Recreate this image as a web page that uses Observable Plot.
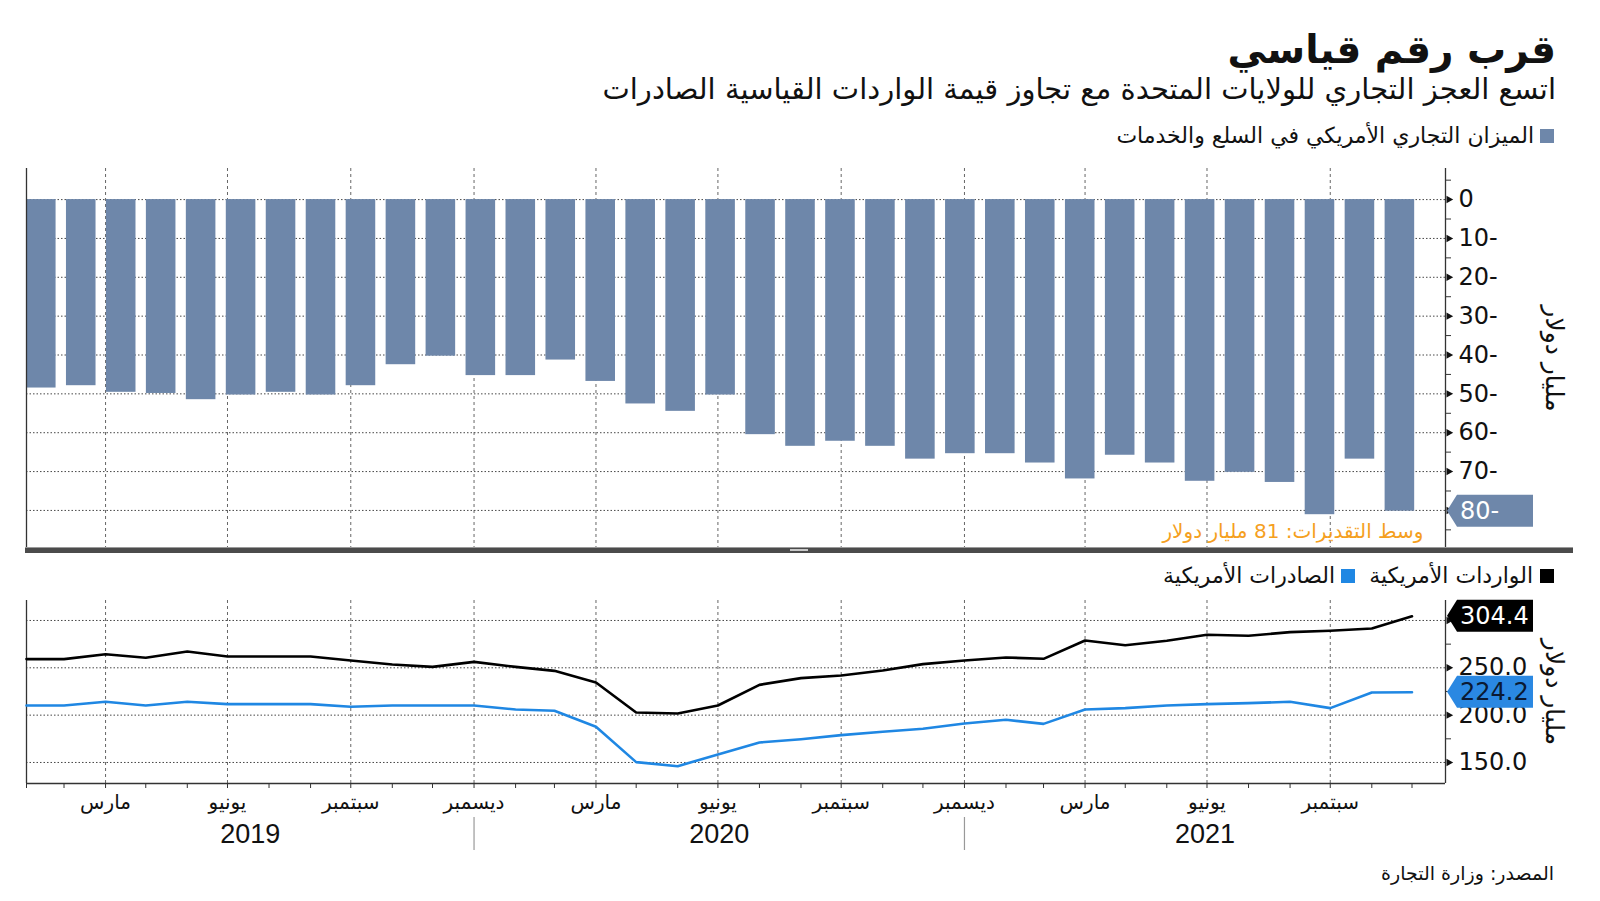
<!DOCTYPE html>
<html><head><meta charset="utf-8">
<script src="https://cdn.jsdelivr.net/npm/d3@7"></script>
<script src="https://cdn.jsdelivr.net/npm/@observablehq/plot@0.6"></script>
<style>
html,body{margin:0;padding:0;background:#fff;}
body{width:1600px;height:901px;overflow:hidden;position:relative;font-family:"DejaVu Sans",sans-serif;color:#111;}
.abs{position:absolute;white-space:nowrap;}
.rtl{direction:rtl;}
.legend{display:flex;align-items:center;direction:rtl;z-index:5;}
.sq{display:inline-block;width:14px;height:14px;}
</style></head><body>
<div id="title" class="abs rtl" style="right:44px;top:28px;font-weight:bold;font-size:39px;line-height:44px;">قرب رقم قياسي</div>
<div id="subtitle" class="abs rtl" style="right:44px;top:70px;font-size:29px;line-height:38px;">اتسع العجز التجاري للولايات المتحدة مع تجاوز قيمة الواردات القياسية الصادرات</div>
<div id="legend1" class="abs legend" style="right:46px;top:123px;font-size:22px;line-height:26px;">
  <span class="sq" style="background:#6e87aa;margin-left:6px;"></span><span>الميزان التجاري الأمريكي في السلع والخدمات</span>
</div>
<div id="chartTop" class="abs" style="left:0;top:150px;"></div>
<div id="sep" class="abs" style="left:25px;top:547px;width:1548px;height:6px;background:#4b4b4b;border-top:1px solid #9a9a9a;box-sizing:border-box;z-index:4;"></div>
<div class="abs" style="left:790px;top:549px;width:18px;height:2px;background:#c8c8c8;z-index:6;"></div>
<div id="chartBottom" class="abs" style="left:0;top:560px;"></div>
<div id="legend2" class="abs legend" style="right:46px;top:563px;font-size:22px;line-height:26px;">
  <span class="sq" style="background:#000;margin-left:7px;"></span><span>الواردات الأمريكية</span>
  <span class="sq" style="background:#1f87e3;margin-left:6px;margin-right:14px;"></span><span>الصادرات الأمريكية</span>
</div>
<div id="source" class="abs rtl" style="right:46px;top:860px;font-size:19px;line-height:26px;">المصدر: وزارة التجارة</div>
<script>
// ---------------- data ----------------
const months = ["2019-01","2019-02","2019-03","2019-04","2019-05","2019-06","2019-07","2019-08","2019-09","2019-10","2019-11","2019-12",
  "2020-01","2020-02","2020-03","2020-04","2020-05","2020-06","2020-07","2020-08","2020-09","2020-10","2020-11","2020-12",
  "2021-01","2021-02","2021-03","2021-04","2021-05","2021-06","2021-07","2021-08","2021-09","2021-10","2021-11"];
const tradeBalance = [-48.5,-47.9,-49.6,-49.9,-51.5,-50.3,-49.6,-50.3,-47.9,-42.5,-40.3,-45.3,
  -45.3,-41.3,-46.8,-52.6,-54.5,-50.3,-60.5,-63.5,-62.2,-63.5,-66.8,-65.4,
  -65.4,-67.8,-71.9,-65.8,-67.8,-72.5,-70.2,-72.8,-81.1,-66.8,-80.2];
const usImports = [259.2,259.2,264.4,260.6,267.3,262.0,262.0,262.0,257.7,253.5,251.0,256.3,
  251.0,246.8,234.5,202.8,201.8,210.2,232.0,239.1,241.9,247.2,253.9,257.7,
  260.9,259.5,278.9,273.9,278.5,284.9,283.8,287.7,289.1,291.5,304.4];
const usExports = [210.2,210.2,214.1,210.2,214.1,211.6,211.6,211.6,208.8,210.2,210.2,210.2,
  206.0,204.6,187.7,150.4,146.1,158.5,171.1,174.6,178.9,182.4,185.6,191.2,
  195.1,190.8,206.0,207.4,210.2,211.6,212.7,214.1,207.4,224.0,224.2];
const consensus = 81;
const monthNames = ["يناير","فبراير","مارس","أبريل","مايو","يونيو","يوليو","أغسطس","سبتمبر","أكتوبر","نوفمبر","ديسمبر"];
const labelledMonths = [2,5,8,11];
const balanceTicks = [0,-10,-20,-30,-40,-50,-60,-70,-80];
const balanceMinorTicks = [5,-5,-15,-25,-35,-45,-55,-65,-75,-85];
const tradeTicks = [150,200,250,300];
const tradeMinorTicks = [175,225,275];
const years = [2019,2020,2021];

// ---------------- helpers ----------------
const monthEnd = s => { const [y,m] = s.split("-").map(Number); return new Date(Date.UTC(y, m, 0)); };
const dates = months.map(monthEnd);
const xDomain = [dates[0], new Date(Date.UTC(2021, 11, 25))];
const quarterDates = dates.filter(d => labelledMonths.includes(d.getUTCMonth()));
const yearBounds = dates.filter(d => d.getUTCMonth() === 11);
const yearSpans = years.map(y => {
  const a = Math.max(+xDomain[0], Date.UTC(y - 1, 11, 31));
  const b = Math.min(+xDomain[1], Date.UTC(y, 11, 31));
  return {year: String(y), mid: new Date((a + b) / 2)};
});
const fmtNeg = d => d < 0 ? `${-d}-` : `${d}`;
const fmt1 = d => d.toFixed(1);
const last = a => a[a.length - 1];
// tick labels hidden under a last-value tag (as in the original)
const visibleTicks = (ticks, lastValues, gap) => ticks.filter(t => lastValues.every(v => Math.abs(t - v) >= gap));

// evenly spaced bars spanning the monthly range
const nBars = tradeBalance.length, padInner = 0.26;
const barStart = +dates[0], barEnd = Date.UTC(2021, 11, 2);
const step = (barEnd - barStart) / (nBars - padInner);
const bars = tradeBalance.map((v, i) => ({
  x1: new Date(barStart + i * step),
  x2: new Date(barStart + i * step + (1 - padInner) * step),
  v
}));

const importsData = dates.map((d, i) => ({date: d, value: usImports[i]}));
const exportsData = dates.map((d, i) => ({date: d, value: usExports[i]}));

const triRight = {draw(ctx, size) { const a = Math.sqrt(size) * 0.7; ctx.moveTo(0, -a); ctx.lineTo(a * 1.8, 0); ctx.lineTo(0, a); ctx.closePath(); }};

const FONT = "DejaVu Sans";
const gridH = {stroke: "#333", strokeDasharray: "1.5,2", strokeWidth: 1, strokeOpacity: 0.9};
const gridV = {stroke: "#555", strokeDasharray: "3,3", strokeWidth: 1, strokeOpacity: 0.9};
const W = 1600, ML = 26, MR = 155;
const unitTitle = "مليار دولار";

// ---------------- top panel ----------------
const topPlot = Plot.plot({
  width: W, height: 400, marginLeft: ML, marginRight: MR, marginTop: 18, marginBottom: 2,
  x: {type: "utc", domain: xDomain, axis: null},
  y: {domain: [-89.8, 8], axis: null},
  style: {fontFamily: FONT, background: "transparent", overflow: "visible", color: "#111"},
  marks: [
    Plot.ruleY(balanceTicks, gridH),
    Plot.ruleX(quarterDates, gridV),
    Plot.rect(bars, {x1: "x1", x2: "x2", y1: () => 0, y2: "v", fill: "#6e87aa"}),
    Plot.ruleX(xDomain, {stroke: "#333", strokeWidth: 1.3}),
    Plot.axisY(balanceMinorTicks, {anchor: "right", tickSize: 5, tickFormat: () => "", stroke: "#333", label: null}),
    Plot.dot(balanceTicks, {y: d => d, frameAnchor: "right", symbol: triRight, r: 3, fill: "#111", stroke: null, dx: 1}),
    Plot.axisY(visibleTicks(balanceTicks, [last(tradeBalance)], 5), {anchor: "right", tickSize: 0, tickPadding: 13, tickFormat: fmtNeg, fontSize: 24, fill: "#111", label: null}),
    Plot.text([unitTitle], {frameAnchor: "right", dx: 108, rotate: 90, textAnchor: "middle", lineAnchor: "middle", fontSize: 25, fill: "#111"}),
    Plot.text([`وسط التقديرات: ${consensus} مليار دولار`], {frameAnchor: "bottom-right", dx: -22, dy: -11, textAnchor: "end", fill: "#f5a01e", fontSize: 20})
  ]
});
document.getElementById("chartTop").append(topPlot);

// ---------------- bottom panel ----------------
const bottomPlot = Plot.plot({
  width: W, height: 290, marginLeft: ML, marginRight: MR, marginTop: 40, marginBottom: 67,
  x: {type: "utc", domain: xDomain},
  y: {domain: [127.8, 321.1]},
  style: {fontFamily: FONT, background: "transparent", overflow: "visible", color: "#111"},
  marks: [
    Plot.ruleY(tradeTicks, gridH),
    Plot.ruleX(quarterDates, gridV),
    Plot.ruleX(xDomain, {stroke: "#333", strokeWidth: 1.3}),
    Plot.ruleY([127.8], {stroke: "#333", strokeWidth: 1.3}),
    Plot.line(importsData, {x: "date", y: "value", stroke: "#000", strokeWidth: 2.6}),
    Plot.line(exportsData, {x: "date", y: "value", stroke: "#1f87e3", strokeWidth: 2.6}),
    Plot.axisX(dates, {tickSize: 5, tickFormat: () => "", stroke: "#333", label: null}),
    Plot.axisX(quarterDates, {tickSize: 0, tickPadding: 11, tickFormat: d => monthNames[d.getUTCMonth()], fontSize: 20, fill: "#111", label: null}),
    Plot.text(yearSpans, {x: "mid", text: "year", frameAnchor: "bottom", dy: 59, fontSize: 27, fontFamily: "Liberation Sans", fill: "#111"}),
    Plot.ruleX(yearBounds, {insetTop: 217, insetBottom: -67, stroke: "#999", strokeWidth: 1.2}),
    Plot.axisY(tradeMinorTicks, {anchor: "right", tickSize: 5, tickFormat: () => "", stroke: "#333", label: null}),
    Plot.dot(tradeTicks, {y: d => d, frameAnchor: "right", symbol: triRight, r: 3, fill: "#111", stroke: null, dx: 1}),
    Plot.axisY(visibleTicks(tradeTicks, [last(usImports)], 12), {anchor: "right", tickSize: 0, tickPadding: 13, tickFormat: fmt1, fontSize: 24, fill: "#111", label: null}),
    Plot.text([unitTitle], {frameAnchor: "right", dx: 108, rotate: 90, textAnchor: "middle", lineAnchor: "middle", fontSize: 25, fill: "#111"})
  ]
});
document.getElementById("chartBottom").append(bottomPlot);

// ---------------- last-value tags ----------------
function tag(plot, value, text, fill, color) {
  const y = plot.scale("y").apply(value);
  const x0 = W - MR + 2, h = 16;
  const g = d3.select(plot).append("g");
  g.append("path").attr("d", `M${x0},${y}L${x0 + 10},${y - h}L${x0 + 86},${y - h}L${x0 + 86},${y + h}L${x0 + 10},${y + h}Z`).attr("fill", fill);
  g.append("text").attr("x", x0 + 13).attr("y", y).attr("dy", "0.36em").attr("fill", color)
    .attr("text-anchor", "start").attr("font-size", 24).attr("font-family", FONT).text(text);
}
tag(topPlot, last(tradeBalance), fmtNeg(Math.round(last(tradeBalance))), "#6e87aa", "#fff");
tag(bottomPlot, last(usImports), fmt1(last(usImports)), "#000", "#fff");
tag(bottomPlot, last(usExports), fmt1(last(usExports)), "#2a88e2", "#0a1a33");
</script>
</body></html>
